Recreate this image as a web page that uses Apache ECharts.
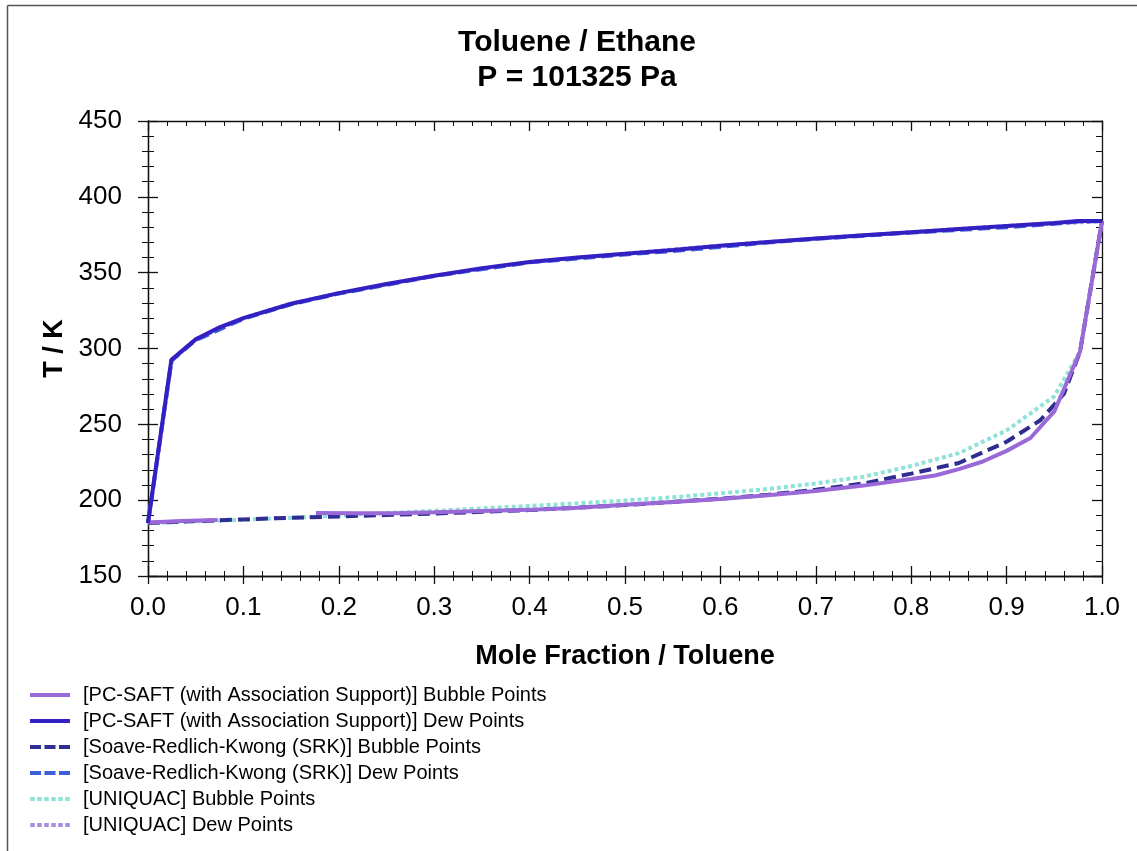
<!DOCTYPE html>
<html>
<head>
<meta charset="utf-8">
<title>Toluene / Ethane</title>
<script src="https://cdn.jsdelivr.net/npm/echarts@6/dist/echarts.min.js"></script>
<style>
  html, body { margin: 0; padding: 0; background: #fff; }
  #chart { width: 1137px; height: 851px; }
</style>
</head>
<body>
<div id="chart"></div>
<script>
// Tx diagram of toluene / ethane at 101325 Pa: [mole fraction toluene, T in K]
const titleLines = ['Toluene / Ethane', 'P = 101325 Pa'];
const xTickLabels = ['0.0', '0.1', '0.2', '0.3', '0.4', '0.5', '0.6', '0.7', '0.8', '0.9', '1.0'];
const yTickLabels = [150, 200, 250, 300, 350, 400, 450];

const seriesNames = [
  '[PC-SAFT (with Association Support)] Bubble Points',
  '[PC-SAFT (with Association Support)] Dew Points',
  '[Soave-Redlich-Kwong (SRK)] Bubble Points',
  '[Soave-Redlich-Kwong (SRK)] Dew Points',
  '[UNIQUAC] Bubble Points',
  '[UNIQUAC] Dew Points'
];

const pcsaftBubble = [
  [0, 185.2], [0.035, 186.2], [0.073, 187.0], [0.12, '-'],
  [0.176, 191.6], [0.22, 191.3], [0.26, 191.4], [0.3, 192.0], [0.35, 192.8],
  [0.4, 193.6], [0.45, 195.0], [0.5, 197.0], [0.55, 198.8], [0.6, 200.8],
  [0.65, 203.2], [0.7, 206.0], [0.75, 209.6], [0.8, 214.0], [0.825, 216.3],
  [0.85, 220.5], [0.875, 225.5], [0.9, 232.5], [0.925, 241.0], [0.95, 258.5],
  [0.977, 298.0], [1.0, 384.0]
];
const pcsaftDew = [
  [0, 185.0], [0.0245, 292.5], [0.05, 306.0], [0.075, 314.0], [0.1, 320.0],
  [0.15, 329.5], [0.2, 336.5], [0.25, 342.5], [0.3, 348.0], [0.35, 353.0],
  [0.4, 357.0], [0.45, 360.0], [0.5, 362.5], [0.55, 365.0], [0.6, 367.8],
  [0.65, 370.2], [0.7, 372.5], [0.75, 374.6], [0.8, 376.7], [0.85, 378.8],
  [0.9, 380.8], [0.95, 382.8], [0.975, 384.0], [1.0, 384.0]
];
const srkBubble = [
  [0, 185.0], [0.05, 186.2], [0.1, 187.3], [0.15, 188.4], [0.2, 189.3],
  [0.25, 190.2], [0.3, 191.2], [0.35, 192.3], [0.4, 193.5], [0.45, 195.0],
  [0.5, 196.8], [0.55, 198.8], [0.6, 201.0], [0.65, 203.6], [0.7, 206.9],
  [0.75, 211.0], [0.8, 217.5], [0.85, 224.5], [0.9, 238.5], [0.935, 252.5],
  [0.96, 270.0], [0.977, 298.0], [1.0, 384.0]
];
const srkDew = [
  [0, 185.0], [0.0245, 292.0], [0.05, 305.5], [0.1, 319.6], [0.15, 329.2],
  [0.2, 336.2], [0.3, 347.8], [0.4, 356.8], [0.5, 362.0], [0.55, 364.3],
  [0.6, 367.0], [0.65, 369.9], [0.7, 372.3], [0.8, 376.4], [0.85, 378.2],
  [0.9, 380.0], [0.95, 382.2], [0.975, 383.8], [1.0, 384.0]
];
const uniquacBubble = [
  [0, 184.8], [0.05, 185.9], [0.1, 187.1], [0.15, 188.4], [0.2, 189.9],
  [0.25, 191.5], [0.3, 193.0], [0.35, 194.6], [0.4, 196.2], [0.45, 197.9],
  [0.5, 199.8], [0.55, 201.9], [0.6, 204.5], [0.65, 207.4], [0.7, 211.0],
  [0.75, 215.5], [0.8, 222.5], [0.85, 231.0], [0.9, 246.0], [0.95, 268.5],
  [0.977, 298.0], [1.0, 384.0]
];
const uniquacDew = [
  [0, 185.0], [0.025, 292.5], [0.05, 306.0], [0.1, 320.0], [0.15, 329.5],
  [0.2, 336.5], [0.3, 348.0], [0.4, 357.0], [0.5, 362.5], [0.6, 367.8],
  [0.7, 372.5], [0.8, 376.7], [0.9, 380.8], [1.0, 384.0]
];

const FONT = '"Liberation Sans", Arial, Helvetica, sans-serif';
const AXIS_COLOR = '#111';

// legend keys: a solid bar, three dashes, or six dots
const ICON_SOLID = 'path://M0,0H40V4H0Z';
const ICON_DASH = 'path://M0,0H11V4H0Z M14.5,0H25.5V4H14.5Z M29,0H40V4H29Z';
const ICON_DOT = 'path://M0,0H4.5V4H0Z M7,0H11.5V4H7Z M14,0H18.5V4H14Z M21,0H25.5V4H21Z M28,0H32.5V4H28Z M35,0H39.5V4H35Z';

const styles = [
  { color: '#9b68d8', type: 'solid', icon: ICON_SOLID, z: 5, data: pcsaftBubble },
  { color: '#3320c2', type: 'solid', icon: ICON_SOLID, z: 6, data: pcsaftDew },
  { color: '#2f2c92', type: [12, 6], icon: ICON_DASH, z: 4, data: srkBubble },
  { color: '#3c5fd9', type: [12, 6], icon: ICON_DASH, z: 4, data: srkDew },
  { color: '#8fe2d8', type: [4, 3], icon: ICON_DOT, z: 3, data: uniquacBubble },
  { color: '#a98ce2', type: [4, 3], icon: ICON_DOT, z: 2, data: uniquacDew }
];

function xAxisPart(position, inside, withLabels) {
  return {
    type: 'value', min: 0, max: 1, interval: 0.1, position: position,
    axisLine: { show: true, onZero: false, lineStyle: { color: AXIS_COLOR, width: 1.3 } },
    axisTick: { show: true, inside: inside, length: inside ? 10 : 8, lineStyle: { color: AXIS_COLOR, width: 1.3 } },
    minorTick: { show: true, splitNumber: 5, length: 5, lineStyle: { color: AXIS_COLOR, width: 1 } },
    minorSplitLine: { show: false },
    splitLine: { show: false },
    axisLabel: withLabels ? {
      show: true, margin: 19, fontSize: 26, color: '#000', fontFamily: FONT,
      formatter: (v) => xTickLabels[Math.round(v * 10)]
    } : { show: false }
  };
}
function yAxisPart(position, inside, withLabels) {
  return {
    type: 'value', min: 150, max: 450, interval: 50, position: position,
    axisLine: { show: true, onZero: false, lineStyle: { color: AXIS_COLOR, width: 1.3 } },
    axisTick: { show: true, inside: inside, length: 10, lineStyle: { color: AXIS_COLOR, width: 1.3 } },
    minorTick: { show: true, splitNumber: 5, length: 6, lineStyle: { color: AXIS_COLOR, width: 1 } },
    minorSplitLine: { show: false },
    splitLine: { show: false },
    axisLabel: withLabels ? {
      show: true, margin: 26, fontSize: 26, color: '#000', fontFamily: FONT,
      formatter: (v) => String(yTickLabels[Math.round((v - 150) / 50)])
    } : { show: false }
  };
}

const xMain = xAxisPart('bottom', false, true);
xMain.name = 'Mole Fraction / Toluene';
xMain.nameLocation = 'middle';
xMain.nameGap = 67;
xMain.nameTextStyle = { fontSize: 27, fontWeight: 'bold', color: '#000', fontFamily: FONT };

const yMain = yAxisPart('left', false, true);
yMain.name = 'T / K';
yMain.nameLocation = 'middle';
yMain.nameGap = 44;
yMain.nameTextStyle = { fontSize: 27, fontWeight: 'bold', color: '#000', fontFamily: FONT };

const chart = echarts.init(document.getElementById('chart'), null, { renderer: 'canvas' });

chart.setOption({
  backgroundColor: '#fff',
  animation: false,
  textStyle: { fontFamily: FONT },
  graphic: [
    { type: 'line', shape: { x1: 7.5, y1: 5.5, x2: 1137, y2: 5.5 }, style: { stroke: '#555', lineWidth: 1.5 } },
    { type: 'line', shape: { x1: 7.5, y1: 5.5, x2: 7.5, y2: 851 }, style: { stroke: '#555', lineWidth: 1.5 } },
    { type: 'text', x: 577, y: 28, style: { text: titleLines[0], font: 'bold 30px ' + FONT, fill: '#000', textAlign: 'center', textVerticalAlign: 'top' } },
    { type: 'text', x: 577, y: 63, style: { text: titleLines[1], font: 'bold 30px ' + FONT, fill: '#000', textAlign: 'center', textVerticalAlign: 'top' } }
  ],
  grid: { left: 148, right: 35, top: 121, bottom: 275, containLabel: false },
  xAxis: [xMain, xAxisPart('bottom', true, false), xAxisPart('top', true, false)],
  yAxis: [yMain, yAxisPart('left', true, false), yAxisPart('right', true, false)],
  legend: {
    orient: 'vertical', left: 25, top: 680,
    itemWidth: 40, itemHeight: 4, itemGap: 6,
    textStyle: { fontSize: 20, color: '#000', fontFamily: FONT, lineHeight: 20, padding: [0, 0, 0, 8] },
    data: seriesNames.map((n, i) => ({ name: n, icon: styles[i].icon, itemStyle: { color: styles[i].color } }))
  },
  series: styles.map((s, i) => ({
    name: seriesNames[i],
    type: 'line',
    xAxisIndex: 0, yAxisIndex: 0,
    data: s.data,
    z: s.z,
    showSymbol: false, symbol: 'none',
    connectNulls: false,
    lineStyle: { color: s.color, width: 4, type: s.type },
    itemStyle: { color: s.color }
  }))
});
</script>
</body>
</html>
